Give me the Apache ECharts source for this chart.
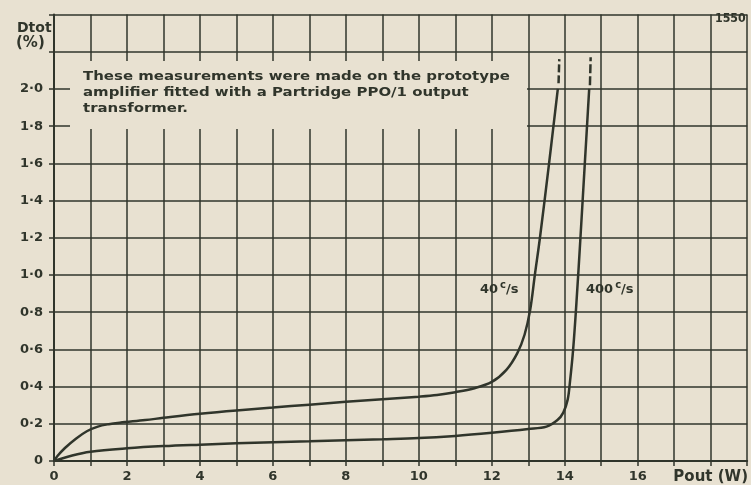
<!DOCTYPE html>
<html>
<head>
<meta charset="utf-8">
<script src="https://cdn.jsdelivr.net/npm/echarts@6/dist/echarts.min.js"></script>
<style>
html,body{margin:0;padding:0;background:#e8e1d1;}
#c{width:751px;height:485px;}
</style>
</head>
<body>
<div id="c"></div>
<script>
// Pout (W), Dtot (%)
const pout40 = [0, 0.1, 0.3, 0.6, 0.9, 1.2, 1.5, 1.8, 2.5, 3, 4, 5, 6, 7, 8, 9, 10, 10.5, 11, 11.5, 12, 12.4, 12.7, 12.9, 13.05, 13.18, 13.32, 13.57, 13.69, 13.81];
const dtot40 = [0, 0.028, 0.07, 0.12, 0.16, 0.185, 0.198, 0.206, 0.22, 0.232, 0.254, 0.272, 0.287, 0.303, 0.318, 0.332, 0.346, 0.355, 0.37, 0.39, 0.425, 0.49, 0.58, 0.68, 0.81, 1.0, 1.2, 1.6, 1.8, 2.0];
const pout400 = [0, 0.5, 1, 2, 3, 4, 5, 6, 7, 8, 9, 10, 11, 12, 13, 13.5, 13.8, 13.96, 14.08, 14.14, 14.23, 14.32, 14.43, 14.55, 14.61, 14.67];
const dtot400 = [0, 0.03, 0.05, 0.068, 0.08, 0.088, 0.095, 0.101, 0.106, 0.112, 0.117, 0.123, 0.135, 0.152, 0.172, 0.185, 0.22, 0.26, 0.33, 0.42, 0.6, 0.85, 1.2, 1.6, 1.8, 2.0];
const dash40 = [[13.83, 2.03], [13.85, 2.16]];
const dash400 = [[14.69, 2.02], [14.71, 2.17]];
const xTickLabels = {0:'0',2:'2',4:'4',6:'6',8:'8',10:'10',12:'12',14:'14',16:'16',18:'Pout (W)'};
const yTickLabels = {0:'0',0.2:'0·2',0.4:'0·4',0.6:'0·6',0.8:'0·8',1.0:'1·0',1.2:'1·2',1.4:'1·4',1.6:'1·6',1.8:'1·8',2.0:'2·0'};
const seriesNames = ['40 c/s', '400 c/s'];
const noteLines = ['These measurements were made on the prototype', 'amplifier fitted with a Partridge PPO/1 output', 'transformer.'];

const BG = '#e8e1d1';
const INK = '#30352b';
const FONT = '"DejaVu Sans", sans-serif';

const zip = (a, b) => a.map((v, i) => [v, b[i]]);
const supLabel = {
  n: {font: 'bold 13px ' + FONT, fill: INK, verticalAlign: 'bottom'},
  s: {font: 'bold 10px ' + FONT, fill: INK, verticalAlign: 'top', padding: [0, 0, 6, 2]}
};

const chart = echarts.init(document.getElementById('c'), null, {renderer: 'canvas'});
chart.setOption({
  backgroundColor: BG,
  animation: false,
  grid: {left: 54, top: 14.5, width: 699, height: 447},
  xAxis: {
    type: 'value', min: 0, max: 19, interval: 1,
    axisLine: {show: true, lineStyle: {color: INK, width: 2}},
    axisTick: {show: true, length: 5, lineStyle: {color: INK, width: 1.5}},
    splitLine: {show: true, lineStyle: {color: INK, width: 1.5}},
    axisLabel: {
      margin: 9, color: INK, fontFamily: FONT, fontWeight: 'bold', fontSize: 13,
      formatter: v => {
        const k = Math.round(v);
        if (k === 18) return '{p|' + xTickLabels[18] + '}';
        return xTickLabels[k] !== undefined ? xTickLabels[k] : '';
      },
      rich: {p: {fontSize: 15, fontWeight: 'bold', fontFamily: FONT, color: INK, padding: [0, 0, 2, 0]}}
    }
  },
  yAxis: {
    type: 'value', min: 0, max: 2.4, interval: 0.2,
    axisLine: {show: true, lineStyle: {color: INK, width: 2}},
    axisTick: {show: true, length: 5, lineStyle: {color: INK, width: 1.5}},
    splitLine: {show: true, lineStyle: {color: INK, width: 1.5}},
    axisLabel: {
      margin: 11, color: INK, fontFamily: FONT, fontWeight: 'bold', fontSize: 13,
      formatter: v => {
        const k = Math.round(v * 10) / 10;
        return yTickLabels[k] !== undefined ? yTickLabels[k] : '';
      }
    }
  },
  series: [
    {name: seriesNames[0], type: 'line', data: zip(pout40, dtot40), smooth: 0.35, showSymbol: false, z: 5,
     lineStyle: {color: INK, width: 2.5}},
    {name: seriesNames[1], type: 'line', data: zip(pout400, dtot400), smooth: 0.35, showSymbol: false, z: 5,
     lineStyle: {color: INK, width: 2.5}},
    {type: 'line', data: dash40, showSymbol: false, z: 5, lineStyle: {color: INK, width: 2.5, type: [8, 3]}},
    {type: 'line', data: dash400, showSymbol: false, z: 5, lineStyle: {color: INK, width: 2.5, type: [9, 3]}}
  ],
  graphic: [
    {type: 'rect', left: 70, top: 61, z: 1, shape: {width: 457, height: 68}, style: {fill: BG}},
    {type: 'text', x: 83, y: 69, scaleX: 1.15, z: 10, style: {text: noteLines.join('\n'), fill: INK, font: 'bold 13px ' + FONT, lineHeight: 16}},
    {type: 'text', left: 17, top: 21, z: 10, style: {text: 'Dtot', fill: INK, font: 'bold 14px ' + FONT}},
    {type: 'text', left: 16, top: 36, z: 10, style: {text: '(%)', fill: INK, font: 'bold 15px ' + FONT}},
    {type: 'text', x: 715, y: 13, scaleX: 0.92, z: 10, style: {text: '1550', fill: INK, font: 'bold 12px ' + FONT}},
    {type: 'text', left: 480, top: 280, z: 10, style: {text: '{n|40}{s|c}{n|/s}', fill: INK, rich: supLabel}},
    {type: 'text', left: 586, top: 280, z: 10, style: {text: '{n|400}{s|c}{n|/s}', fill: INK, rich: supLabel}}
  ]
});
</script>
</body>
</html>
